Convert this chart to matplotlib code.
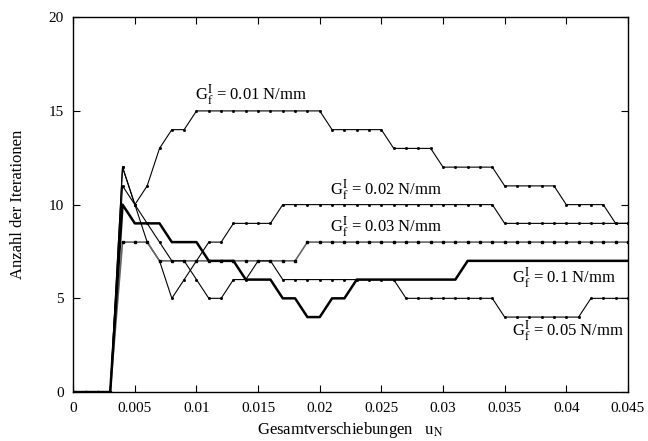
import matplotlib
matplotlib.use("Agg")
import matplotlib.pyplot as plt
import numpy as np

plt.rcParams['font.family'] = ['Liberation Serif', 'DejaVu Serif']
plt.rcParams['mathtext.fontset'] = 'stix'

# x in steps of 0.001
x = np.arange(46) * 0.001

g001 = [0, 0, 0, 0, 12, 10, 11, 13, 14, 14] + [15] * 11 + [14] * 5 + [13] * 4 + [12] * 5 + [11] * 5 + [10] * 4 + [9] * 2
g002 = [0, 0, 0, 0, 12, 10, 8, 7, 5, 6, 7, 8, 8] + [9] * 4 + [10] * 18 + [9] * 11
g003 = [0, 0, 0, 0, 8, 8, 8] + [7] * 12 + [8] * 27
g005 = [0, 0, 0, 0, 11, 10, 9, 8, 7, 7, 6, 5, 5, 6, 6, 7, 7] + [6] * 10 + [5] * 8 + [4] * 7 + [5] * 4
g01 = [0, 0, 0, 0, 10, 9, 9, 9, 8, 8, 8, 7, 7, 7, 6, 6, 6, 5, 5, 4, 4, 5, 5] + [6] * 9 + [7] * 14

xticks = [0, 0.005, 0.01, 0.015, 0.02, 0.025, 0.03, 0.035, 0.04, 0.045]
xticklabels = ['0', '0.005', '0.01', '0.015', '0.02', '0.025', '0.03', '0.035', '0.04', '0.045']
yticks = [0, 5, 10, 15, 20]

fig = plt.figure(figsize=(6.48, 4.41), dpi=100)
ax = fig.add_axes([0.113, 0.111, 0.856, 0.850])

ax.plot(x, g001, color='black', lw=0.8, marker='s', ms=1.0)
ax.plot(x, g002, color='black', lw=0.8, marker='s', ms=1.0)
ax.plot(x, g003, color='#666666', lw=1.2, marker='s', ms=2.0, mfc='black', mec='black')
ax.plot(x, g005, color='black', lw=0.8, marker='s', ms=1.0)
ax.plot(x, g01, color='black', lw=1.8)

fs = 12
ax.text(0.0099, 15.85, r'G$^{\mathrm{I}}_{\mathrm{f}}$ = 0.01 N/mm', fontsize=fs, va='center')
ax.text(0.0208, 10.8, r'G$^{\mathrm{I}}_{\mathrm{f}}$ = 0.02 N/mm', fontsize=fs, va='center')
ax.text(0.0208, 8.85, r'G$^{\mathrm{I}}_{\mathrm{f}}$ = 0.03 N/mm', fontsize=fs, va='center')
ax.text(0.0356, 6.1, r'G$^{\mathrm{I}}_{\mathrm{f}}$ = 0.1 N/mm', fontsize=fs, va='center')
ax.text(0.0356, 3.3, r'G$^{\mathrm{I}}_{\mathrm{f}}$ = 0.05 N/mm', fontsize=fs, va='center')

ax.set_xlim(0, 0.045)
ax.set_ylim(0, 20)
ax.set_xticks(xticks)
ax.set_xticklabels(xticklabels)
ax.set_yticks(yticks)
ax.tick_params(direction='in', top=True, right=True, length=5, labelsize=11, pad=7)
for s in ax.spines.values():
    s.set_linewidth(1.0)

ax.set_xlabel(r'Gesamtverschiebungen   u$_{\mathrm{N}}$', fontsize=12, labelpad=4)
ax.set_ylabel('Anzahl der Iterationen', fontsize=12, labelpad=16)

fig.savefig('out.png', dpi=100)
